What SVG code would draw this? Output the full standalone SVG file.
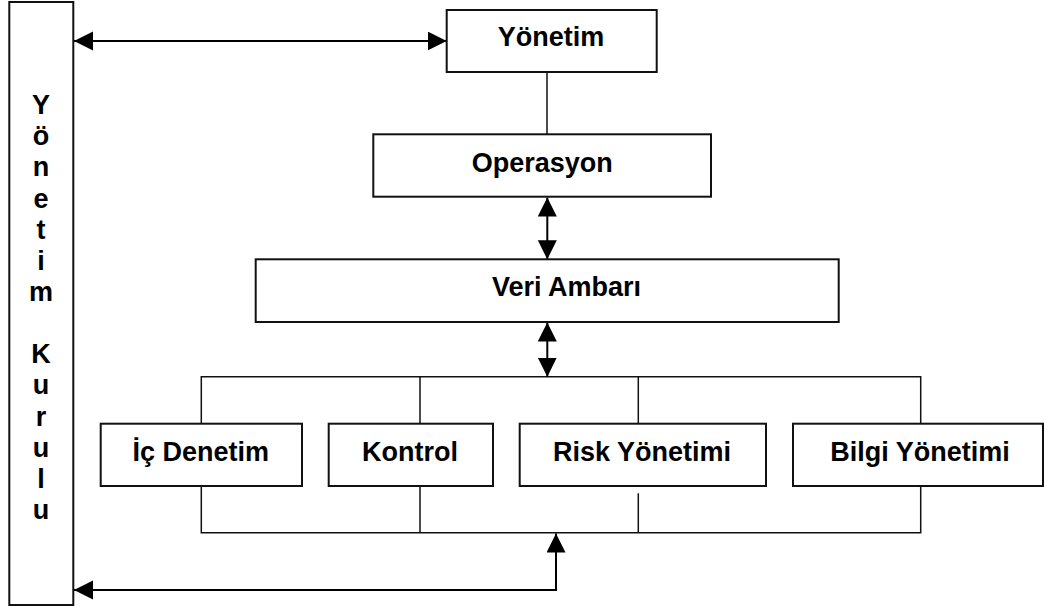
<svg xmlns="http://www.w3.org/2000/svg" width="1045" height="607" viewBox="0 0 1045 607">
  <style>
    .box { fill: #ffffff; stroke: #111111; stroke-width: 2; }
    .lbl { font-family: "Liberation Sans", Arial, sans-serif; font-weight: bold; font-size: 27px; fill: #000000; text-anchor: middle; }
    .wire { fill: none; stroke: #111111; stroke-width: 1.5; }
    .arrow { fill: none; stroke: #000000; stroke-width: 2; marker-start: url(#head); marker-end: url(#head); }
  </style>
  <defs>
    <marker id="head" markerUnits="userSpaceOnUse" markerWidth="20" markerHeight="20" refX="19" refY="9.5" orient="auto-start-reverse">
      <path d="M0,0 L19,9.5 L0,19 Z" fill="#000000"/>
    </marker>
  </defs>
  <rect width="1045" height="607" fill="#ffffff"/>

  <!-- connectors -->
  <g id="connectors">
    <line class="wire" x1="547" y1="72" x2="547" y2="134.3"/>
    <polyline class="wire" points="201.3,423.7 201.3,376.7 920.7,376.7 920.7,423.7"/>
    <line class="wire" x1="420" y1="376.7" x2="420" y2="423.7"/>
    <line class="wire" x1="638.3" y1="376.7" x2="638.3" y2="423.7"/>
    <polyline class="wire" points="201.3,486 201.3,532.7 920.7,532.7 920.7,486"/>
    <line class="wire" x1="420" y1="486" x2="420" y2="532.7"/>
    <line class="wire" x1="638.3" y1="493.3" x2="638.3" y2="532.7"/>
    <line class="arrow" x1="74" y1="41" x2="446.7" y2="41"/>
    <line class="arrow" x1="547.3" y1="197.5" x2="547.3" y2="259.3"/>
    <line class="arrow" x1="547.3" y1="322.5" x2="547.3" y2="376.7"/>
    <path class="arrow" d="M556,533.5 L556,590 L74,590"/>
  </g>

  <g id="yonetim-kurulu">
    <rect class="box" x="9.3" y="2" width="64" height="603"/>
    <text class="lbl" x="41" y="114">Y</text>
    <text class="lbl" x="41" y="145">ö</text>
    <text class="lbl" x="41" y="176">n</text>
    <text class="lbl" x="41" y="207.5">e</text>
    <text class="lbl" x="41" y="238.6">t</text>
    <text class="lbl" x="41" y="269.8">i</text>
    <text class="lbl" x="41" y="301">m</text>
    <text class="lbl" x="41" y="363">K</text>
    <text class="lbl" x="41" y="394.4">u</text>
    <text class="lbl" x="41" y="425.5">r</text>
    <text class="lbl" x="41" y="456.7">u</text>
    <text class="lbl" x="41" y="487.8">l</text>
    <text class="lbl" x="41" y="519">u</text>
  </g>

  <g id="yonetim">
    <rect class="box" x="446.7" y="10" width="210" height="62"/>
    <text class="lbl" x="551" y="46">Yönetim</text>
  </g>

  <g id="operasyon">
    <rect class="box" x="373.3" y="134.3" width="337.7" height="62.4"/>
    <text class="lbl" x="542.2" y="171.5">Operasyon</text>
  </g>

  <g id="veri-ambari">
    <rect class="box" x="255.7" y="259.3" width="583" height="62.7"/>
    <text class="lbl" x="566.5" y="296">Veri Ambarı</text>
  </g>

  <g id="ic-denetim">
    <rect class="box" x="100.7" y="423.7" width="201.3" height="62.3"/>
    <text class="lbl" x="200.8" y="460.7">İç Denetim</text>
  </g>

  <g id="kontrol">
    <rect class="box" x="328.7" y="423.7" width="164.3" height="62.3"/>
    <text class="lbl" x="410" y="460.7">Kontrol</text>
  </g>

  <g id="risk-yonetimi">
    <rect class="box" x="519.7" y="423.7" width="246.3" height="62.3"/>
    <text class="lbl" x="642" y="460.7">Risk Yönetimi</text>
  </g>

  <g id="bilgi-yonetimi">
    <rect class="box" x="793" y="423.7" width="250" height="62.3"/>
    <text class="lbl" x="920" y="460.7">Bilgi Yönetimi</text>
  </g>
</svg>
